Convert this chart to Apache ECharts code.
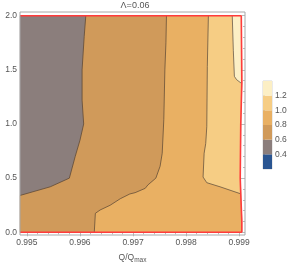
<!DOCTYPE html>
<html><head><meta charset="utf-8">
<script src="https://cdn.jsdelivr.net/npm/echarts@6/dist/echarts.min.js"></script>
<style>html,body{margin:0;padding:0;background:#fff}#c{width:291px;height:262px}</style>
</head><body><div id="c"></div>
<script>
// ---- tick labels ----
const xTicks = [0.995, 0.996, 0.997, 0.998, 0.999];
const yTicks = [0.0, 0.5, 1.0, 1.5, 2.0];
const legendTicks = [0.4, 0.6, 0.8, 1.0, 1.2];
const legendLevels = [0.2, 0.4, 0.6, 0.8, 1.0, 1.2, 1.4];
const bandColors = ['#2a5591', '#8b7e7c', '#d09a5a', '#e9b063', '#f6cd84', '#fcefc5'];

// ---- data region ----
const xDataMin = 0.99487;
const lambdaMax = 2.0;
const rightEdge = [[0.99904,2.0],[0.99905,1.38],[0.99903,1.0],[0.99902,0.5],[0.99903,0.355],[0.99905,0.1],[0.99905,0.0]];

// ---- contour lines (Q/Qmax, lambda) ----
const contour06 = [[0.99611,2.0],[0.99608,1.81],[0.99604,1.5],[0.99604,1.22],[0.99607,1.0],[0.99600,0.85],[0.99591,0.70],[0.99580,0.50],[0.99544,0.42],[0.99487,0.34]];
const contour08 = [[0.99763,2.0],[0.99762,1.75],[0.99760,1.5],[0.99758,1.04],[0.99755,0.73],[0.99751,0.61],[0.99743,0.50],[0.99728,0.437],[0.99723,0.406],[0.99704,0.366],[0.99694,0.354],[0.99676,0.31],[0.99657,0.25],[0.99638,0.206],[0.99629,0.175],[0.99627,0.0]];
const contour10 = [[0.99842,2.0],[0.99840,1.53],[0.99839,0.975],[0.99837,0.82],[0.99834,0.73],[0.99832,0.51],[0.99839,0.458],[0.99864,0.42],[0.99903,0.355]];
const contour12 = [[0.99887,2.0],[0.99889,1.68],[0.99891,1.44],[0.99895,1.41],[0.99904,1.376]];

const revRight = rightEdge.slice().reverse();
function above(l){ return revRight.filter(p => p[1] > l); }
const regionPolys = [
  [[xDataMin, lambdaMax]].concat(rightEdge, [[xDataMin, 0]]),
  contour06.concat([[xDataMin, 0]], revRight),
  contour08.concat(revRight),
  contour10.concat(above(contour10[contour10.length-1][1])),
  contour12.concat(above(contour12[contour12.length-1][1]))
];
const regionBand = [1, 2, 3, 4, 5];
const redBottom = [[xDataMin, 0], rightEdge[rightEdge.length-1]];
const redTop = [rightEdge[0], [xDataMin, lambdaMax]];

const xMinor = [], yMinor = [];
for (let i = 1; i < 25; i++) { const v = +(0.995 + i*0.0002).toFixed(4); if (i % 5) xMinor.push(v); }
for (let i = 1; i < 20; i++) { const v = +(i*0.1).toFixed(1); if (i % 5) yMinor.push(v); }

const gray = '#a8a8a8', txt = '#555';
const XMIN = 0.99487, XMAX = 0.99911, YMIN = -0.025, YMAX = 2.034;
function xa(pos, vals, len, labels, extra){
  return Object.assign({gridIndex:0, type:'value', min:XMIN, max:XMAX, position:pos,
    axisLine:{show:false}, splitLine:{show:false},
    axisTick:{show:true, inside:true, length:len, customValues:vals, lineStyle:{color:gray, width:0.8}},
    axisLabel: labels ? {customValues:vals, formatter:v=>v.toFixed(3), color:txt, fontSize:8.5, margin:3, fontFamily:'Liberation Sans'} : {show:false}
  }, extra||{});
}
function ya(pos, vals, len, labels, extra){
  return Object.assign({gridIndex:0, type:'value', min:YMIN, max:YMAX, position:pos,
    axisLine:{show:false}, splitLine:{show:false},
    axisTick:{show:true, inside:true, length:len, customValues:vals, lineStyle:{color:gray, width:0.8}},
    axisLabel: labels ? {customValues:vals, formatter:v=>v.toFixed(1), color:txt, fontSize:8.5, margin:3, fontFamily:'Liberation Sans'} : {show:false}
  }, extra||{});
}

const contourStyle = {stroke:'rgba(70,55,45,0.8)', lineWidth:0.8};
const redStyle = {stroke:'#ff3b3b', lineWidth:1.6};
const polylines = [contour06, contour08, contour10, contour12, redBottom, rightEdge, redTop];
const polyStyles = [contourStyle, contourStyle, contourStyle, contourStyle, redStyle, redStyle, redStyle];

const chart = echarts.init(document.getElementById('c'), null, {renderer:'canvas'});
chart.setOption({
  animation:false,
  backgroundColor:'#fff',
  grid:[
    {left:20, right:46, top:12, bottom:27, show:true, borderColor:gray, borderWidth:1, backgroundColor:'transparent', z:5, outerBoundsMode:'none', containLabel:false},
    {left:263, width:9, top:81, height:88, show:true, borderColor:'#bbb', borderWidth:0.6, backgroundColor:'transparent', outerBoundsMode:'none', containLabel:false}
  ],
  graphic:[{type:'text', x:135, y:6, style:{text:'Λ=0.06', align:'center', verticalAlign:'middle', fontSize:9, fill:txt, fontFamily:'Liberation Sans'}}],
  xAxis:[
    xa('bottom', xTicks, 4, true, {name:'{a|Q/Q}{b|max}', nameLocation:'middle', nameGap:14,
      nameTextStyle:{color:txt, fontFamily:'Liberation Sans', rich:{a:{fontSize:8.5, lineHeight:12, verticalAlign:'middle', color:txt}, b:{fontSize:6.5, lineHeight:12, verticalAlign:'bottom', padding:[5,0,0,0], color:txt}}}}),
    xa('bottom', xMinor, 2, false),
    xa('top', xTicks, 4, false),
    xa('top', xMinor, 2, false),
    {gridIndex:1, type:'value', min:0, max:1, show:false}
  ],
  yAxis:[
    ya('left', yTicks, 4, true, {name:'λ', nameLocation:'middle', nameGap:15, nameRotate:0, nameTextStyle:{color:txt, fontSize:8.5, fontFamily:'Liberation Sans'}}),
    ya('left', yMinor, 2, false),
    ya('right', yTicks, 4, false),
    ya('right', yMinor, 2, false),
    {gridIndex:1, type:'value', min:0.2, max:1.4, position:'right', axisLine:{show:false}, splitLine:{show:false},
      axisTick:{show:true, length:2, customValues:legendTicks, lineStyle:{color:gray, width:0.8}},
      axisLabel:{customValues:legendTicks, formatter:v=>v.toFixed(1), color:txt, fontSize:8.5, margin:3, fontFamily:'Liberation Sans'}}
  ],
  series:[
    {type:'custom', xAxisIndex:0, yAxisIndex:0, silent:true, z:1,
      data: regionPolys.map(p => p[0]),
      renderItem:(params, api) => ({type:'polygon', shape:{points: regionPolys[params.dataIndex].map(p => api.coord(p))},
        style:{fill: bandColors[regionBand[params.dataIndex]], stroke: bandColors[regionBand[params.dataIndex]], lineWidth:0.3}})
    },
    {type:'custom', xAxisIndex:0, yAxisIndex:0, silent:true, z:3,
      data: polylines.map(p => p[0]),
      renderItem:(params, api) => ({type:'polyline', shape:{points: polylines[params.dataIndex].map(p => api.coord(p))},
        style:Object.assign({fill:null}, polyStyles[params.dataIndex])})
    },
    {type:'custom', xAxisIndex:4, yAxisIndex:4, silent:true,
      data: bandColors.map((c,i) => [0, legendLevels[i], legendLevels[i+1]]),
      renderItem:(params, api) => {
        const p1 = api.coord([0, api.value(2)]), p2 = api.coord([1, api.value(1)]);
        return {type:'rect', shape:{x:p1[0], y:p1[1], width:p2[0]-p1[0], height:p2[1]-p1[1]}, style:{fill: bandColors[params.dataIndex]}};
      }
    }
  ]
});
</script></body></html>
